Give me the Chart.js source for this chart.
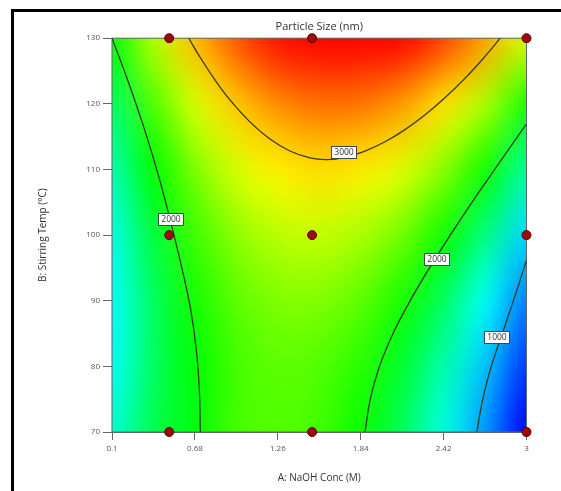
<!DOCTYPE html>
<html>
<head>
<meta charset="utf-8">
<title>Particle Size (nm)</title>
<script src="https://cdn.jsdelivr.net/npm/chart.js@4.4.0/dist/chart.umd.min.js"></script>
<style>
  html, body { margin: 0; padding: 0; background: #fff; overflow: hidden; }
  #wrap { position: relative; width: 561px; height: 491px; }
  #frame { position: absolute; left: 11px; top: 9px; width: 700px; height: 700px;
           border-left: 3px solid #000; border-top: 3px solid #000; pointer-events: none; }
</style>
</head>
<body>
<div id="wrap">
  <canvas id="chart" width="561" height="491"></canvas>
  <div id="frame"></div>
</div>
<script>
// grid of the response surface
const naohConc = [0.1, 0.39, 0.68, 0.97, 1.26, 1.55, 1.84, 2.13, 2.42, 2.71, 3.0]
const stirTemp = [130, 120, 110, 100, 90, 80, 70]
const particleSize = [
    [2005, 2586, 3054, 3408, 3648, 3775, 3788, 3688, 3474, 3146, 2705],
    [1702, 2251, 2687, 3009, 3218, 3313, 3295, 3163, 2917, 2558, 2085],
    [1478, 1996, 2400, 2691, 2868, 2932, 2882, 2718, 2440, 2050, 1545],
    [1335, 1821, 2194, 2453, 2598, 2630, 2548, 2353, 2044, 1621, 1085],
    [1272, 1726, 2067, 2294, 2408, 2408, 2295, 2068, 1727, 1273, 705],
    [1288, 1711, 1985, 2216, 2298, 2267, 2122, 1863, 1490, 1004, 405],
    [1385, 1776, 1960, 2218, 2268, 2205, 2028, 1738, 1334, 816, 185]
]
// value at blue, cyan, green, yellow, red
const colorStops = [185, 1250, 2000, 2820, 3700]

// design points
const designA = [0.5, 1.5, 3, 0.5, 1.5, 3, 0.5, 1.5, 3]
const designB = [130, 130, 130, 100, 100, 100, 70, 70, 70]

const xTicks = [0.1, 0.68, 1.26, 1.84, 2.42, 3]

// contour lines [A, B]
const contour3000 = [[0.637, 130], [0.714, 127.17], [0.819, 123.70], [0.924, 120.63], [1.065, 117.25],
    [1.205, 114.64], [1.345, 112.81], [1.485, 111.76], [1.604, 111.49], [1.730, 111.84],
    [1.870, 112.80], [2.010, 114.22], [2.150, 116.07], [2.291, 118.33], [2.431, 120.95],
    [2.571, 123.91], [2.711, 127.26], [2.816, 130]]
const contour2000L = [[0.1, 130], [0.210, 123.60], [0.329, 115.99], [0.434, 108.37], [0.525, 100.76],
    [0.592, 94.67], [0.651, 88.58], [0.690, 82.49], [0.711, 76.40], [0.718, 70]]
const contour2000R = [[3.0, 116.90], [2.969, 115.99], [2.847, 112.18], [2.677, 106.85], [2.508, 101.37],
    [2.342, 95.73], [2.208, 90.86], [2.078, 85.53], [1.975, 80.20], [1.906, 74.87], [1.870, 70]]
const contour1000 = [[3.0, 96.19], [2.933, 91.62], [2.839, 85.53], [2.746, 79.44], [2.688, 74.37], [2.653, 70]]

const labelText = ['3000', '2000', '2000', '1000']
const labelA = [1.72, 0.512, 2.37, 2.793]
const labelB = [112.7, 102.4, 96.3, 84.4]

const axisColor = '#5d6868'
const lineColor = '#3a3a24'

function colorFor(v) {
    const rgb = [[0, 0, 255], [0, 255, 255], [0, 255, 0], [255, 255, 0], [255, 0, 0]]
    if (v <= colorStops[0]) return rgb[0]
    if (v >= colorStops[4]) return rgb[4]
    let i = 0
    while (v > colorStops[i + 1]) i++
    const f = (v - colorStops[i]) / (colorStops[i + 1] - colorStops[i])
    const a = rgb[i], b = rgb[i + 1]
    return [0, 1, 2].map(k => Math.round(a[k] + (b[k] - a[k]) * f))
}

const heatmap = {
    id: 'heatmap',
    beforeDatasetsDraw(chart) {
        const { ctx, chartArea, scales: { x, y } } = chart
        const cols = naohConc.length, rows = stirTemp.length
        const off = document.createElement('canvas')
        off.width = cols
        off.height = rows
        const octx = off.getContext('2d')
        const img = octx.createImageData(cols, rows)
        particleSize.forEach((row, r) => row.forEach((v, c) => {
            const rgb = colorFor(v)
            const i = (r * cols + c) * 4
            img.data[i] = rgb[0]
            img.data[i + 1] = rgb[1]
            img.data[i + 2] = rgb[2]
            img.data[i + 3] = 255
        }))
        octx.putImageData(img, 0, 0)
        const x0 = x.getPixelForValue(naohConc[0]), x1 = x.getPixelForValue(naohConc[cols - 1])
        const y0 = y.getPixelForValue(stirTemp[0]), y1 = y.getPixelForValue(stirTemp[rows - 1])
        ctx.save()
        ctx.imageSmoothingEnabled = true
        ctx.imageSmoothingQuality = 'high'
        ctx.drawImage(off, 0.5, 0.5, cols - 1, rows - 1, x0, y0, x1 - x0, y1 - y0)
        // plot frame
        ctx.strokeStyle = axisColor
        ctx.lineWidth = 1
        ctx.strokeRect(chartArea.left, chartArea.top, chartArea.right - chartArea.left, chartArea.bottom - chartArea.top)
        ctx.restore()
    }
}

const contourLabels = {
    id: 'contourLabels',
    afterDatasetsDraw(chart) {
        const { ctx, scales: { x, y } } = chart
        ctx.save()
        ctx.font = '8.5px "Open Sans", sans-serif'
        ctx.textAlign = 'center'
        ctx.textBaseline = 'middle'
        labelText.forEach((t, i) => {
            const px = x.getPixelForValue(labelA[i])
            const py = y.getPixelForValue(labelB[i])
            const w = Math.round(ctx.measureText(t).width + 6)
            const h = 12
            const bx = Math.round(px - w / 2), by = Math.round(py - h / 2)
            ctx.fillStyle = '#ffffff'
            ctx.fillRect(bx, by, w, h)
            ctx.strokeStyle = '#3d4848'
            ctx.lineWidth = 1
            ctx.strokeRect(bx + 0.5, by + 0.5, w, h)
            ctx.fillStyle = '#333'
            ctx.fillText(t, bx + w / 2 + 0.5, by + h / 2 + 1)
        })
        ctx.restore()
    }
}

function contourSet(pts) {
    return {
        type: 'line',
        data: pts.map(p => ({ x: p[0], y: p[1] })),
        showLine: true,
        borderColor: lineColor,
        borderWidth: 1.3,
        pointRadius: 0,
        tension: 0.4,
        fill: false
    }
}

Chart.defaults.font.family = '"Open Sans", "Noto Sans", sans-serif'
Chart.defaults.color = '#444'

window.onload = function () {
    const ctx = document.getElementById('chart')
    new Chart(ctx, {
        type: 'scatter',
        data: {
            datasets: [
                {
                    data: designA.map((a, i) => ({ x: a, y: designB[i] })),
                    pointRadius: 4.5,
                    pointHoverRadius: 4.5,
                    backgroundColor: '#9b0b0b',
                    borderColor: '#5e0000',
                    borderWidth: 1,
                    clip: false
                },
                contourSet(contour3000),
                contourSet(contour2000L),
                contourSet(contour2000R),
                contourSet(contour1000)
            ]
        },
        options: {
            responsive: false,
            animation: false,
            layout: { padding: { left: 30, right: 34.5, top: 0, bottom: 0 } },
            plugins: {
                legend: { display: false },
                tooltip: { enabled: false },
                title: {
                    display: true,
                    text: 'Particle Size (nm)',
                    fullSize: false,
                    color: '#333',
                    font: { size: 11, weight: 'normal' },
                    padding: { top: 20, bottom: 5 }
                }
            },
            scales: {
                x: {
                    type: 'linear',
                    min: 0.1,
                    max: 3,
                    afterBuildTicks: scale => { scale.ticks = xTicks.map(v => ({ value: v })) },
                    afterFit: scale => { scale.height = 59 },
                    ticks: { font: { size: 8 }, color: '#555', padding: 4, callback: v => String(v) },
                    grid: { display: true, drawOnChartArea: false, drawTicks: true, tickLength: 8, color: axisColor },
                    border: { display: true, color: axisColor },
                    title: { display: true, text: 'A: NaOH Conc (M)', color: '#333', font: { size: 10 }, padding: { top: 7, bottom: 7 } }
                },
                y: {
                    type: 'linear',
                    min: 70,
                    max: 130,
                    afterFit: scale => { scale.width = 82 },
                    ticks: { stepSize: 10, font: { size: 8 }, color: '#555', padding: 3 },
                    grid: { display: true, drawOnChartArea: false, drawTicks: true, tickLength: 9, color: axisColor },
                    border: { display: true, color: axisColor },
                    title: { display: true, text: 'B: Stirring Temp (°C)', color: '#333', font: { size: 10 }, padding: { top: 7, bottom: 7 } }
                }
            }
        },
        plugins: [heatmap, contourLabels]
    })
}
</script>
</body>
</html>
